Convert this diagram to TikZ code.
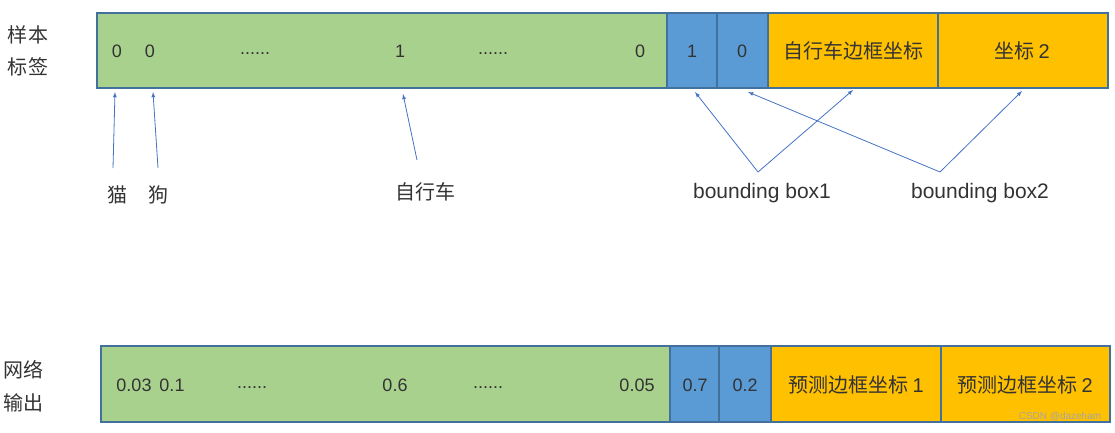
\documentclass[tikz,border=0pt]{standalone}
\usepackage{fontspec}
\setmainfont{Liberation Sans}
\newfontfamily\cjk{Noto Sans CJK SC}
\definecolor{gr}{HTML}{A9D18E}
\definecolor{bl}{HTML}{5B9BD5}
\definecolor{og}{HTML}{FFC000}
\definecolor{bd}{HTML}{41719C}
\definecolor{ar}{HTML}{4472C4}
\definecolor{tx}{HTML}{333333}
\begin{document}
\begin{tikzpicture}[x=1pt,y=-1pt,
  cell/.style={draw=bd,line width=1.2pt},
  lbl/.style={text=tx,font=\fontsize{18}{20}\selectfont,inner sep=0pt},
  bbl/.style={text=tx,font=\fontsize{21}{23}\selectfont,inner sep=0pt},
  zh/.style={text=tx,font=\fontsize{20}{22}\selectfont\cjk,inner sep=0pt},
  arr/.style={draw=ar,line width=0.8pt,-latex}]
\useasboundingbox (0,0) rectangle (1115,432);
% top bar
\draw[cell,fill=gr] (97,13) rectangle (667,88);
\draw[cell,fill=bl] (667,13) rectangle (717,88);
\draw[cell,fill=bl] (717,13) rectangle (768,88);
\draw[cell,fill=og] (768,13) rectangle (938,88);
\draw[cell,fill=og] (938,13) rectangle (1108,88);
\node[lbl] (t0) at (117,51) {0};
\node[lbl] (t1) at (150,51) {0};
\node[lbl] at (255,54) {......};
\node[lbl] (t2) at (400,51) {1};
\node[lbl] at (493,54) {......};
\node[lbl] at (640,51) {0};
\node[lbl] (t3) at (692,51) {1};
\node[lbl] (t4) at (742,51) {0};
\node[zh] (t5) at (853,51) {自行车边框坐标};
\node[zh] (t6) at (1022,51) {坐标 {\rmfamily 2}};
\node[zh] at (28,35) {样本};
\node[zh] at (28,67) {标签};
% labels
\node[zh] (cat) at (117,195) {猫};
\node[zh] (dog) at (158,195) {狗};
\node[zh] (bike) at (425,192) {自行车};
\node[bbl] (b1) at (762,193) {bounding box1};
\node[bbl] (b2) at (980,193) {bounding box2};
\coordinate (c1) at (113,168);
\coordinate (c2) at (158,168);
\coordinate (c3) at (417,160);
\coordinate (c4) at (758,172);
\coordinate (c5) at (940,172);
\coordinate (e1) at (115,92);
\coordinate (e2) at (153,92);
\coordinate (e3) at (403,94);
\coordinate (e4) at (695,92);
\coordinate (e5) at (853,90);
\coordinate (e6) at (748,92);
\coordinate (e7) at (1022,91);
\draw[arr] (c1) -- (e1);
\draw[arr] (c2) -- (e2);
\draw[arr] (c3) -- (e3);
\draw[arr] (c4) -- (e4);
\draw[arr] (c4) -- (e5);
\draw[arr] (c5) -- (e6);
\draw[arr] (c5) -- (e7);
% bottom bar
\draw[cell,fill=gr] (101,346) rectangle (670,422);
\draw[cell,fill=bl] (670,346) rectangle (719,422);
\draw[cell,fill=bl] (719,346) rectangle (771,422);
\draw[cell,fill=og] (771,346) rectangle (941,422);
\draw[cell,fill=og] (941,346) rectangle (1110,422);
\node[zh] at (23,370) {网络};
\node[zh] at (23,403) {输出};
\node[lbl] at (134,385) {0.03};
\node[lbl] at (172,385) {0.1};
\node[lbl] at (252,388) {......};
\node[lbl] at (395,385) {0.6};
\node[lbl] at (488,388) {......};
\node[lbl] at (637,385) {0.05};
\node[lbl] at (695,385) {0.7};
\node[lbl] at (745,385) {0.2};
\node[zh] at (856,385) {预测边框坐标 {\rmfamily 1}};
\node[zh] at (1025,385) {预测边框坐标 {\rmfamily 2}};
\node[lbl,text=gray!70,font=\fontsize{10}{11}\selectfont] at (1060,417) {CSDN @dazeham};
\end{tikzpicture}
\end{document}
